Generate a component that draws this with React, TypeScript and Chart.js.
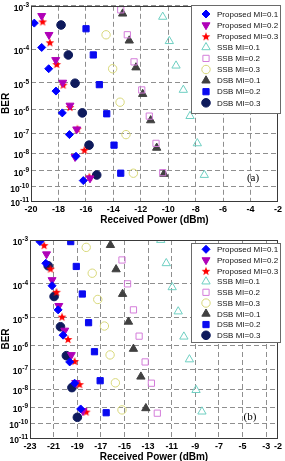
import React, { useEffect, useRef } from 'react';
import { Chart, registerables } from 'chart.js';

Chart.register(...registerables);

// ---------- series names ----------
const seriesNames = [
  'Proposed MI=0.1',
  'Proposed MI=0.2',
  'Proposed MI=0.3',
  'SSB MI=0.1',
  'SSB MI=0.2',
  'SSB MI=0.3',
  'DSB MI=0.1',
  'DSB MI=0.2',
  'DSB MI=0.3',
];

// ---------- panel (a): received power (dBm) and BER ----------
const aProp01X = [-19.76, -19.22, -18.71, -18.18, -17.72, -17.2, -16.72, -16.19];
const aProp01BER = [4.3e-4, 1.1e-4, 2.75e-5, 5.1e-6, 7.6e-7, 8.5e-8, 6.8e-9, 2.5e-10];
const aProp02X = [-19.22, -18.69, -18.2, -17.69, -17.16, -16.67, -16.79, -15.7];
const aProp02BER = [6.2e-4, 2.3e-4, 5e-5, 1.0e-5, 1.5e-6, 1.5e-7, 6.3e-9, 3.5e-10];
const aProp03X = [-19.15, -18.62, -18.13, -17.65, -17.16, -16.62, -16.11, -15.75];
const aProp03BER = [4.7e-4, 1.5e-4, 3.8e-5, 8.5e-6, 1.3e-6, 1.6e-7, 1.5e-8, 4.5e-10];
const aSsb01X = [-10.4, -9.92, -9.43, -8.9, -8.41, -7.88, -7.37];
const aSsb01BER = [5.9e-4, 1.6e-4, 3.4e-5, 5.6e-6, 5.6e-7, 3.2e-8, 5.6e-10];
const aSsb02X = [-13.46, -12.98, -12.49, -11.93, -11.38, -10.89, -10.4];
const aSsb02BER = [8.3e-4, 2.3e-4, 4.4e-5, 5.6e-6, 5.6e-7, 3.2e-8, 7.8e-10];
const aSsb03X = [-14.53, -14.05, -13.51, -13.08, -12.54];
const aSsb03BER = [2.3e-4, 2.75e-5, 2.0e-6, 8.5e-8, 7.2e-10];
const aDsb01X = [-13.32, -12.84, -12.35, -11.86, -11.28, -10.84, -10.31];
const aDsb01BER = [6.9e-4, 1.65e-4, 3e-5, 4e-6, 3.7e-7, 1.9e-8, 6.5e-10];
const aDsb02X = [-15.99, -15.46, -15.02, -14.48, -13.95, -13.46];
const aDsb02BER = [3.2e-4, 6.9e-5, 8.5e-6, 7e-7, 2.6e-8, 7.2e-10];
const aDsb03X = [-17.81, -17.28, -16.79, -16.26, -15.77, -15.21];
const aDsb03BER = [3.9e-4, 6.9e-5, 9.5e-6, 7.6e-7, 2.6e-8, 5.6e-10];

// ---------- panel (b) ----------
const bProp01X = [-22.16, -21.66, -21.13, -20.62, -20.2, -19.64, -19.22, -18.71];
const bProp01BER = [9.3e-4, 3.2e-4, 8.9e-5, 1.8e-5, 2.5e-6, 2.1e-7, 2.1e-8, 8.1e-10];
const bProp02X = [-21.6, -21.13, -20.56, -20.06, -19.5, -19.13, -18.52];
const bProp02BER = [5.1e-4, 1.26e-4, 2.4e-5, 3.7e-6, 4.2e-7, 2.2e-8, 6.2e-10];
const bProp03X = [-21.8, -21.26, -20.76, -20.29, -19.78, -19.22, -18.8, -18.24];
const bProp03BER = [7.9e-4, 2.4e-4, 6.1e-5, 1.1e-5, 1.8e-6, 2.3e-7, 1.9e-8, 5.6e-10];
const bSsb01X = [-11.93, -11.46, -10.96, -10.45, -9.97, -9.5, -8.94, -8.44];
const bSsb01BER = [1e-3, 3.2e-4, 8.1e-5, 1.6e-5, 2.2e-6, 2.7e-7, 9.3e-9, 5.6e-10];
const bSsb02X = [-15.21, -14.74, -14.24, -13.76, -13.25, -12.72, -12.22];
const bSsb02BER = [3.8e-4, 1.0e-4, 1.8e-5, 2.3e-6, 2.1e-7, 2.1e-8, 4.5e-10];
const bSsb03X = [-18.24, -17.73, -17.26, -16.7, -16.22, -15.77, -15.21];
const bSsb03BER = [7.1e-4, 1.86e-4, 3.7e-5, 5.3e-6, 4.2e-7, 2.2e-8, 7.1e-10];
const bDsb01X = [-16.19, -15.71, -15.16, -14.66, -14.24, -13.61, -13.19];
const bDsb01BER = [7.9e-4, 2.3e-4, 5.3e-5, 7.4e-6, 7.4e-7, 4.4e-8, 8.9e-10];
const bDsb02X = [-19.55, -19.08, -18.57, -18.04, -17.54, -17.06, -16.55];
const bDsb02BER = [9.3e-4, 2.7e-4, 5.3e-5, 6.9e-6, 5.7e-7, 2.8e-8, 4.8e-10];
const bDsb03X = [-21.46, -20.96, -20.42, -19.92, -19.45, -18.99];
const bDsb03BER = [2.8e-4, 4.5e-5, 5.0e-6, 3.9e-7, 1.25e-8, 2.5e-10];

// ---------- ticks ----------
const berTicks = [1e-3, 1e-4, 1e-5, 1e-6, 1e-7, 1e-8, 1e-9, 1e-10, 1e-11];
const berTickBase = '10';
const berTickExps = berTicks.map((b) => String(Math.round(Math.log10(b))));
const aXTicks = [-20, -18, -16, -14, -12, -10, -8, -6, -4, -2];
const bXTicks = [-23, -21, -19, -17, -15, -13, -11, -9, -7, -5, -3, -2];
const xTitle = 'Received Power (dBm)';
const yTitle = 'BER';

// BER axis: log10(-log10(BER))
const berAxis = (b: number) => Math.log10(-Math.log10(b));

type St = { shape: string; color: string; fill: boolean; r: number; rot?: number };
const styles: St[] = [
  { shape: 'rectRot', color: '#0000FF', fill: true, r: 4 },
  { shape: 'triangle', color: '#B000B8', fill: true, r: 4.6, rot: 180 },
  { shape: 'star', color: '#FF0000', fill: true, r: 4.6 },
  { shape: 'triangle', color: '#6ECFC2', fill: false, r: 4.8 },
  { shape: 'rect', color: '#D47DDA', fill: false, r: 4.4 },
  { shape: 'circle', color: '#D8D87A', fill: false, r: 4.2 },
  { shape: 'triangle', color: '#404040', fill: true, r: 4.8 },
  { shape: 'rect', color: '#0A0AF0', fill: true, r: 4.4 },
  { shape: 'circle', color: '#0E1A5C', fill: true, r: 4.3 },
];

function makeStar(color: string, r: number) {
  const c = document.createElement('canvas');
  const s = Math.ceil(r * 2 + 2);
  c.width = s;
  c.height = s;
  const g = c.getContext('2d')!;
  g.fillStyle = color;
  g.beginPath();
  for (let i = 0; i < 10; i++) {
    const rad = i % 2 === 0 ? r : r * 0.42;
    const a = -Math.PI / 2 + (i * Math.PI) / 5;
    const px = s / 2 + rad * Math.cos(a);
    const py = s / 2 + 0.6 + rad * Math.sin(a);
    if (i === 0) g.moveTo(px, py);
    else g.lineTo(px, py);
  }
  g.closePath();
  g.fill();
  return c;
}

function drawMarker(ctx: CanvasRenderingContext2D, st: St, x: number, y: number, star: HTMLCanvasElement) {
  ctx.save();
  if (st.shape === 'star') {
    ctx.drawImage(star, x - star.width / 2, y - star.height / 2);
    ctx.restore();
    return;
  }
  const r = st.r;
  ctx.beginPath();
  if (st.shape === 'circle') {
    ctx.arc(x, y, r, 0, Math.PI * 2);
  } else if (st.shape === 'rect') {
    const s = r * Math.SQRT1_2;
    ctx.rect(x - s, y - s, 2 * s, 2 * s);
  } else if (st.shape === 'rectRot') {
    ctx.moveTo(x, y - r);
    ctx.lineTo(x + r, y);
    ctx.lineTo(x, y + r);
    ctx.lineTo(x - r, y);
    ctx.closePath();
  } else if (st.shape === 'triangle') {
    let a = ((st.rot || 0) * Math.PI) / 180;
    for (let k = 0; k < 3; k++) {
      const px = x + Math.sin(a) * r;
      const py = y - Math.cos(a) * r;
      if (k === 0) ctx.moveTo(px, py);
      else ctx.lineTo(px, py);
      a += (2 * Math.PI) / 3;
    }
    ctx.closePath();
  }
  if (st.fill) {
    ctx.fillStyle = st.color;
    ctx.fill();
  }
  ctx.strokeStyle = st.color;
  ctx.lineWidth = 1;
  ctx.stroke();
  ctx.restore();
}

type PanelProps = {
  xs: number[][];
  bers: number[][];
  xMin: number;
  xMax: number;
  xTicks: number[];
  top: number;
  height: number;
  padTop: number;
  yWidth: number;
  tag: string;
  tagPos: [number, number];
  legendBox: [number, number, number, number];
  legendY0: number;
  legendStep: number;
};

const FONT = "Arial, 'Liberation Sans', sans-serif";

function Panel(p: PanelProps) {
  const ref = useRef<HTMLCanvasElement>(null);
  useEffect(() => {
    const canvas = ref.current!;
    const star = makeStar(styles[2].color, styles[2].r);
    const datasets = seriesNames.map((name, i) => {
      const st = styles[i];
      return {
        label: name,
        data: p.xs[i].map((x, j) => ({ x, y: berAxis(p.bers[i][j]) })),
        showLine: false,
        pointStyle: st.shape === 'star' ? star : st.shape,
        pointRotation: st.rot || 0,
        pointRadius: st.r,
        pointHoverRadius: st.r,
        pointBackgroundColor: st.fill ? st.color : 'rgba(0,0,0,0)',
        pointBorderColor: st.color,
        pointBorderWidth: 1,
      };
    });

    const overlay = {
      id: 'overlay',
      afterDraw(chart: any) {
        const ctx: CanvasRenderingContext2D = chart.ctx;
        const a = chart.chartArea;
        const ys = chart.scales.y;
        ctx.save();
        // axes box
        ctx.strokeStyle = '#3a3a3a';
        ctx.lineWidth = 1;
        ctx.setLineDash([]);
        ctx.strokeRect(Math.round(a.left) + 0.5, Math.round(a.top) + 0.5, Math.round(a.right - a.left) - 1, Math.round(a.bottom - a.top));
        // y tick labels 10^-n
        ctx.fillStyle = '#000';
        ctx.textBaseline = 'alphabetic';
        berTicks.forEach((b, i) => {
          const py = ys.getPixelForValue(berAxis(b));
          const exp = berTickExps[i];
          ctx.font = 'bold 6.5px ' + FONT;
          ctx.textAlign = 'left';
          const ew = ctx.measureText(exp).width;
          const ex = a.left - 2 - ew;
          ctx.fillText(exp, ex, py + 1);
          ctx.font = 'bold 8.5px ' + FONT;
          ctx.textAlign = 'right';
          ctx.fillText(berTickBase, ex, py + 5);
        });
        // panel tag
        ctx.fillStyle = '#000';
        ctx.font = "11px 'Times New Roman', 'Liberation Serif', serif";
        ctx.textAlign = 'center';
        ctx.textBaseline = 'middle';
        ctx.fillText(p.tag, p.tagPos[0], p.tagPos[1]);
        // legend
        const [bx, by, bw, bh] = p.legendBox;
        ctx.fillStyle = '#fff';
        ctx.fillRect(bx, by, bw, bh);
        ctx.strokeStyle = '#6a6a6a';
        ctx.strokeRect(bx + 0.5, by + 0.5, bw, bh);
        ctx.font = '8px ' + FONT;
        ctx.textAlign = 'left';
        ctx.textBaseline = 'middle';
        seriesNames.forEach((name, i) => {
          const y = p.legendY0 + i * p.legendStep;
          drawMarker(ctx, styles[i], bx + 15, y, star);
          ctx.fillStyle = '#111';
          ctx.fillText(name, bx + 26, y + 0.5);
        });
        ctx.restore();
      },
    };

    const chart = new Chart(canvas, {
      type: 'scatter',
      data: { datasets } as any,
      options: {
        responsive: false,
        devicePixelRatio: 1,
        animation: false,
        layout: { padding: { top: p.padTop, right: 5, left: 0, bottom: 0 } },
        plugins: { legend: { display: false }, tooltip: { enabled: false } },
        scales: {
          x: {
            type: 'linear',
            min: p.xMin,
            max: p.xMax,
            afterBuildTicks: (s: any) => {
              s.ticks = p.xTicks.map((v) => ({ value: v }));
            },
            afterFit: (s: any) => {
              s.height = 27;
            },
            ticks: {
              autoSkip: false,
              maxRotation: 0,
              minRotation: 0,
              padding: 3,
              color: '#000',
              font: { family: FONT, size: 9, weight: 'bold' },
              callback: (v: any) => String(v),
            },
            grid: { color: '#8f8f8f', lineWidth: 1, drawTicks: false },
            border: { display: false, dash: [5, 3] },
            title: {
              display: true,
              text: xTitle,
              color: '#000',
              font: { family: FONT, size: 10, weight: 'bold' },
              padding: { top: 0, bottom: 2 },
            },
          },
          y: {
            type: 'linear',
            reverse: true,
            min: berAxis(berTicks[0]),
            max: berAxis(berTicks[berTicks.length - 1]),
            afterBuildTicks: (s: any) => {
              s.ticks = berTicks.map((b) => ({ value: berAxis(b) }));
            },
            afterFit: (s: any) => {
              s.width = p.yWidth;
            },
            ticks: { display: false },
            grid: { color: '#8f8f8f', lineWidth: 1, drawTicks: false },
            border: { display: false, dash: [5, 3] },
            title: {
              display: true,
              text: yTitle,
              color: '#000',
              font: { family: FONT, size: 10, weight: 'bold' },
              padding: { top: 0, bottom: 0 },
            },
          },
        },
      } as any,
      plugins: [overlay],
    });
    return () => chart.destroy();
  }, []);
  return (
    <canvas
      ref={ref}
      width={285}
      height={p.height}
      style={{ position: 'absolute', left: 0, top: p.top, width: 285, height: p.height }}
    />
  );
}

export default function App() {
  return (
    <div style={{ position: 'absolute', left: 0, top: 0, width: 285, height: 461, overflow: 'hidden', background: '#fff' }}>
      <Panel
        xs={[aProp01X, aProp02X, aProp03X, aSsb01X, aSsb02X, aSsb03X, aDsb01X, aDsb02X, aDsb03X]}
        bers={[aProp01BER, aProp02BER, aProp03BER, aSsb01BER, aSsb02BER, aSsb03BER, aDsb01BER, aDsb02BER, aDsb03BER]}
        xMin={-20}
        xMax={-2}
        xTicks={aXTicks}
        top={0}
        height={228}
        padTop={5}
        yWidth={31}
        tag="(a)"
        tagPos={[253, 178]}
        legendBox={[191, 5, 89, 108]}
        legendY0={14}
        legendStep={11.1}
      />
      <Panel
        xs={[bProp01X, bProp02X, bProp03X, bSsb01X, bSsb02X, bSsb03X, bDsb01X, bDsb02X, bDsb03X]}
        bers={[bProp01BER, bProp02BER, bProp03BER, bSsb01BER, bSsb02BER, bSsb03BER, bDsb01BER, bDsb02BER, bDsb03BER]}
        xMin={-23}
        xMax={-2}
        xTicks={bXTicks}
        top={228}
        height={237}
        padTop={12}
        yWidth={30}
        tag="(b)"
        tagPos={[250, 189]}
        legendBox={[191, 15, 89, 99]}
        legendY0={21.3}
        legendStep={10.75}
      />
    </div>
  );
}
